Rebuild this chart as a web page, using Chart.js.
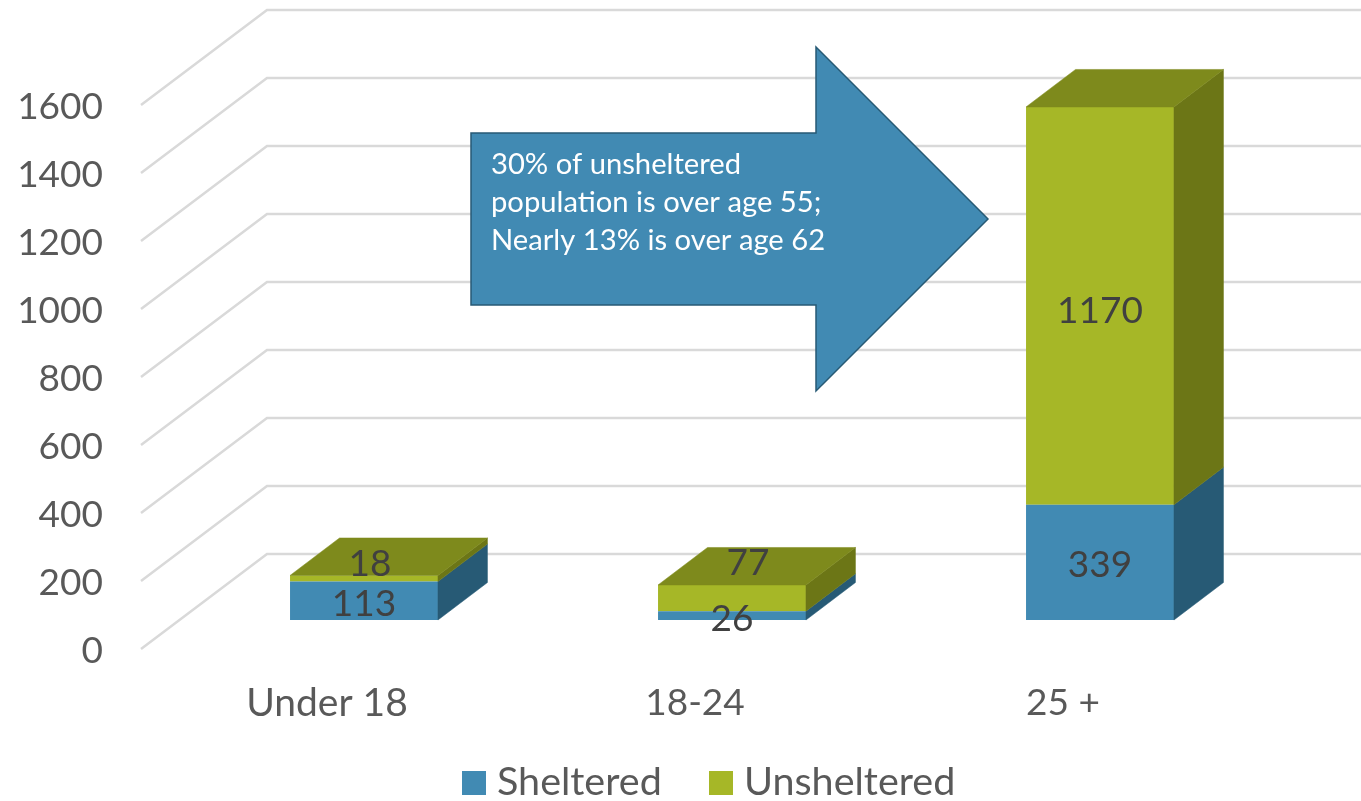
<!DOCTYPE html>
<html>
<head>
<meta charset="utf-8">
<title>Homeless population by age</title>
<script src="https://cdn.jsdelivr.net/npm/chart.js@4"></script>
<style>
    html, body { margin: 0; padding: 0; background: #fff; overflow: hidden; }
    canvas { display: block; }
</style>
</head>
<body>
<canvas id="myChart" width="1361" height="801"></canvas>
<script>
const categories = ["Under 18", "18-24", "25 +"];
const sheltered = [113, 26, 339];
const unsheltered = [18, 77, 1170];
const calloutLines = [
    "30% of unsheltered",
    "population is over age 55;",
    "Nearly 13% is over age 62"
];

const BLUE = "#418AB3", BLUE_SIDE = "#275A75";
const GREEN = "#A6B727", GREEN_SIDE = "#6C7616", GREEN_TOP = "#7E8A1C";
const FONT = "Lato";

// depth of the bars and of the floor, px
const BAR_DX = 49.5, BAR_DY = -37.5;

function poly(ctx, pts, fill, stroke, lineWidth) {
    ctx.beginPath();
    pts.forEach((p, i) => i ? ctx.lineTo(p[0], p[1]) : ctx.moveTo(p[0], p[1]));
    ctx.closePath();
    ctx.fillStyle = fill;
    ctx.fill();
    ctx.strokeStyle = stroke || fill;
    ctx.lineWidth = lineWidth || 0.5;
    ctx.stroke();
}

const wallPlugin = {
    id: "walls",
    beforeDatasetsDraw(chart) {
        const ctx = chart.ctx, y = chart.scales.y;
        ctx.save();
        ctx.strokeStyle = "#D9D9D9";
        ctx.lineWidth = 2.5;
        y.ticks.forEach(t => {
            const p = y.getPixelForValue(t.value);
            ctx.beginPath();
            ctx.moveTo(141, p + 29);
            ctx.lineTo(267, p - 66);
            ctx.lineTo(1361, p - 66);
            ctx.stroke();
        });
        ctx.restore();
    }
};

// side and top faces of the stacks, the front is the normal bar
const facePlugin = {
    id: "faces",
    afterDatasetsDraw(chart) {
        const ctx = chart.ctx;
        const sides = [BLUE_SIDE, GREEN_SIDE];
        ctx.save();
        chart.data.datasets.forEach((ds, d) => {
            chart.getDatasetMeta(d).data.forEach(bar => {
                const r = bar.x + bar.width / 2, l = bar.x - bar.width / 2;
                poly(ctx, [[r, bar.y], [r + BAR_DX, bar.y + BAR_DY], [r + BAR_DX, bar.base + BAR_DY], [r, bar.base]], sides[d]);
                if (d === 1) {
                    poly(ctx, [[l, bar.y], [r, bar.y], [r + BAR_DX, bar.y + BAR_DY], [l + BAR_DX, bar.y + BAR_DY]], GREEN_TOP);
                }
            });
        });
        ctx.restore();
    }
};

// value labels, moved by hand like in the original
const labelPlugin = {
    id: "valueLabels",
    afterDatasetsDraw(chart) {
        const ctx = chart.ctx;
        const nudge = [
            [[0, 3], [0, 3.5], [0, 2.5]],
            [[6, -14], [16, -35.5], [0, 5]]
        ];
        ctx.save();
        ctx.font = "37px " + FONT;
        ctx.fillStyle = "#404040";
        ctx.textAlign = "center";
        ctx.textBaseline = "middle";
        chart.data.datasets.forEach((ds, d) => {
            chart.getDatasetMeta(d).data.forEach((bar, i) => {
                const mid = (bar.y + bar.base) / 2;
                ctx.fillText(ds.data[i], bar.x + nudge[d][i][0], mid + nudge[d][i][1]);
            });
        });
        ctx.restore();
    }
};

const calloutPlugin = {
    id: "callout",
    afterDatasetsDraw(chart) {
        const ctx = chart.ctx;
        ctx.save();
        poly(ctx, [[471, 133], [816, 133], [816, 47], [988, 219], [816, 391], [816, 305], [471, 305]], BLUE, BLUE_SIDE, 1.5);
        ctx.font = "29.2px " + FONT;
        ctx.fillStyle = "#fff";
        ctx.textAlign = "left";
        ctx.textBaseline = "middle";
        calloutLines.forEach((line, i) => ctx.fillText(line, 491, 165 + i * 38));
        ctx.restore();
    }
};

// legend boxes sit closer to the text than the built in one allows
const legendPlugin = {
    id: "flatLegend",
    afterDraw(chart) {
        const ctx = chart.ctx;
        const boxX = [462, 709];
        ctx.save();
        ctx.font = "39.5px " + FONT;
        ctx.textAlign = "left";
        ctx.textBaseline = "middle";
        chart.data.datasets.forEach((ds, d) => {
            ctx.fillStyle = ds.backgroundColor;
            ctx.fillRect(boxX[d], 771, 24, 24);
            ctx.fillStyle = "#595959";
            ctx.fillText(ds.label, boxX[d] + 35, 782);
        });
        ctx.restore();
    }
};

new Chart(document.getElementById("myChart"), {
    type: "bar",
    data: {
        labels: categories,
        datasets: [
            { label: "Sheltered", data: sheltered, backgroundColor: BLUE },
            { label: "Unsheltered", data: unsheltered, backgroundColor: GREEN }
        ]
    },
    options: {
        responsive: false,
        animation: false,
        layout: { padding: { top: 76, right: 77, left: 0, bottom: 0 } },
        datasets: { bar: { categoryPercentage: 1, barPercentage: 0.402 } },
        plugins: { legend: { display: false }, tooltip: { enabled: false } },
        scales: {
            x: {
                stacked: true,
                grid: { display: false, drawTicks: false },
                border: { display: false },
                afterFit(scale) { scale.height = 181; },
                ticks: {
                    padding: 60.5,
                    labelOffset: -37,
                    color: "#595959",
                    font: c => ({ family: FONT, size: c.index === 0 ? 39 : 37 }),
                    autoSkip: false,
                    maxRotation: 0
                }
            },
            y: {
                stacked: true,
                min: 0,
                max: 1600,
                grid: { display: false, drawTicks: false },
                border: { display: false },
                afterFit(scale) {
                    scale.width = 180;
                    scale.paddingTop = 0;
                    scale.paddingBottom = 0;
                },
                ticks: {
                    stepSize: 200,
                    padding: 77,
                    labelOffset: 31.5,
                    color: "#595959",
                    font: { family: FONT, size: 37 },
                    callback: v => String(v)
                }
            }
        }
    },
    plugins: [wallPlugin, facePlugin, labelPlugin, calloutPlugin, legendPlugin]
});
</script>
</body>
</html>
